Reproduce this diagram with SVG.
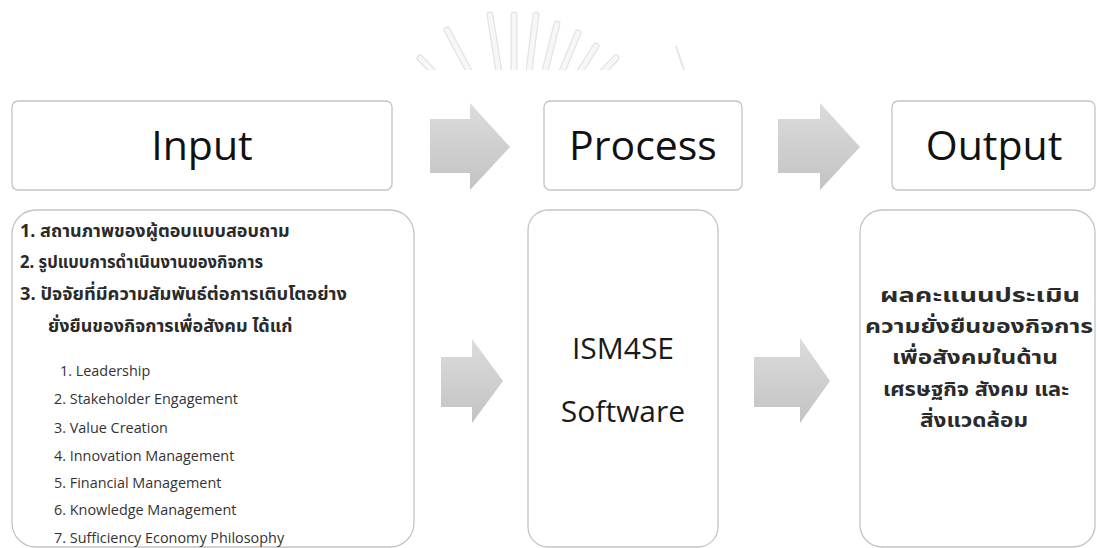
<svg xmlns="http://www.w3.org/2000/svg" width="1097" height="548" viewBox="0 0 1097 548">
  <style>
    .box { fill: #ffffff; stroke: #c4c4c4; stroke-width: 1.3; }
    .head { font-family: "Open Sans", "Noto Sans", sans-serif; font-size: 41px; fill: #111111; text-anchor: middle; }
    .mid { font-family: "Open Sans", "Noto Sans", sans-serif; font-size: 30px; fill: #1a1a1a; text-anchor: middle; }
    .th { font-family: "Noto Sans Thai", "Leelawadee UI", "Tahoma", "DejaVu Sans", sans-serif; font-size: 18px; font-weight: bold; fill: #2a2a2a; }
    .thc { font-family: "Noto Sans Thai", "Leelawadee UI", "Tahoma", "DejaVu Sans", sans-serif; font-size: 20px; font-weight: bold; fill: #2a2a2a; }
    .en { font-family: "Open Sans", "Noto Sans", sans-serif; font-size: 14.4px; fill: #333333; }
    .arrow { fill: url(#arrowFill); }
    .ray { fill: none; stroke: #e3e3e3; stroke-width: 7; stroke-linecap: round; }
    .rayIn { fill: none; stroke: #f7f7f7; stroke-width: 4.5; stroke-linecap: round; }
  </style>
  <defs>
    <linearGradient id="arrowFill" x1="0" y1="0" x2="0" y2="1">
      <stop offset="0" stop-color="#dcdcdc"/>
      <stop offset="1" stop-color="#c3c3c3"/>
    </linearGradient>
    <clipPath id="markClip">
      <rect x="380" y="0" width="340" height="70"/>
    </clipPath>
  </defs>

  <rect width="1097" height="548" fill="#ffffff"/>

  <!-- faint emblem mark at the top -->
  <g id="mark" clip-path="url(#markClip)">
    <path class="ray" d="M470 110 L420 58 M490 110 L447 30 M505 110 L490 15 M514 110 L514 15 M524 110 L536 15 M535 110 L557 24 M546 110 L578 33 M556 110 L596 46 M566 110 L616 58"/>
    <path class="rayIn" d="M470 110 L420 58 M490 110 L447 30 M505 110 L490 15 M514 110 L514 15 M524 110 L536 15 M535 110 L557 24 M546 110 L578 33 M556 110 L596 46 M566 110 L616 58"/>
    <path d="M676 46 L684 70" fill="none" stroke="#e6e6e6" stroke-width="2"/>
  </g>

  <!-- connectors -->
  <g id="connectors">
    <path class="arrow" d="M430 119 H470 V103 L510 147 L470 190 V173 H430 Z"/>
    <path class="arrow" d="M778 119 H820 V103 L860 147 L820 190 V173 H778 Z"/>
    <path class="arrow" d="M441 357 H472 V339 L503 381 L472 423 V407 H441 Z"/>
    <path class="arrow" d="M754 357 H800 V338 L830 381 L800 423 V407 H754 Z"/>
  </g>

  <!-- Input -->
  <g id="input-header">
    <rect class="box" x="12" y="101" width="380" height="89" rx="6"/>
    <text class="head" x="202" y="160">Input</text>
  </g>
  <g id="input-body">
    <rect class="box" x="12" y="210" width="402" height="337" rx="24"/>
    <text class="th" x="20" y="237">1. สถานภาพของผู้ตอบแบบสอบถาม</text>
    <text class="th" x="20" y="268" textLength="243" lengthAdjust="spacingAndGlyphs">2. รูปแบบการดำเนินงานของกิจการ</text>
    <text class="th" x="20" y="300" textLength="327" lengthAdjust="spacingAndGlyphs">3. ปัจจัยที่มีความสัมพันธ์ต่อการเติบโตอย่าง</text>
    <text class="th" x="48" y="332">ยั่งยืนของกิจการเพื่อสังคม ได้แก่</text>
    <text class="en" x="60" y="376">1. Leadership</text>
    <text class="en" x="54" y="404">2. Stakeholder Engagement</text>
    <text class="en" x="54" y="433">3. Value Creation</text>
    <text class="en" x="54" y="461">4. Innovation Management</text>
    <text class="en" x="54" y="488">5. Financial Management</text>
    <text class="en" x="54" y="515">6. Knowledge Management</text>
    <text class="en" x="54" y="543">7. Sufficiency Economy Philosophy</text>
  </g>

  <!-- Process -->
  <g id="process-header">
    <rect class="box" x="544" y="101" width="198" height="89" rx="6"/>
    <text class="head" x="643" y="160">Process</text>
  </g>
  <g id="process-body">
    <rect class="box" x="528" y="210" width="190" height="337" rx="20"/>
    <text class="mid" x="623" y="359">ISM4SE</text>
    <text class="mid" x="623" y="422">Software</text>
  </g>

  <!-- Output -->
  <g id="output-header">
    <rect class="box" x="892" y="101" width="203" height="89" rx="6"/>
    <text class="head" x="994" y="160">Output</text>
  </g>
  <g id="output-body">
    <rect class="box" x="860" y="210" width="235" height="337" rx="22"/>
    <text class="thc" x="880" y="302" textLength="200" lengthAdjust="spacingAndGlyphs">ผลคะแนนประเมิน</text>
    <text class="thc" x="865" y="333" textLength="228" lengthAdjust="spacingAndGlyphs">ความยั่งยืนของกิจการ</text>
    <text class="thc" x="892" y="364" textLength="166" lengthAdjust="spacingAndGlyphs">เพื่อสังคมในด้าน</text>
    <text class="thc" x="883" y="396" textLength="186" lengthAdjust="spacingAndGlyphs">เศรษฐกิจ สังคม และ</text>
    <text class="thc" x="920" y="427" textLength="108" lengthAdjust="spacingAndGlyphs">สิ่งแวดล้อม</text>
  </g>
</svg>
